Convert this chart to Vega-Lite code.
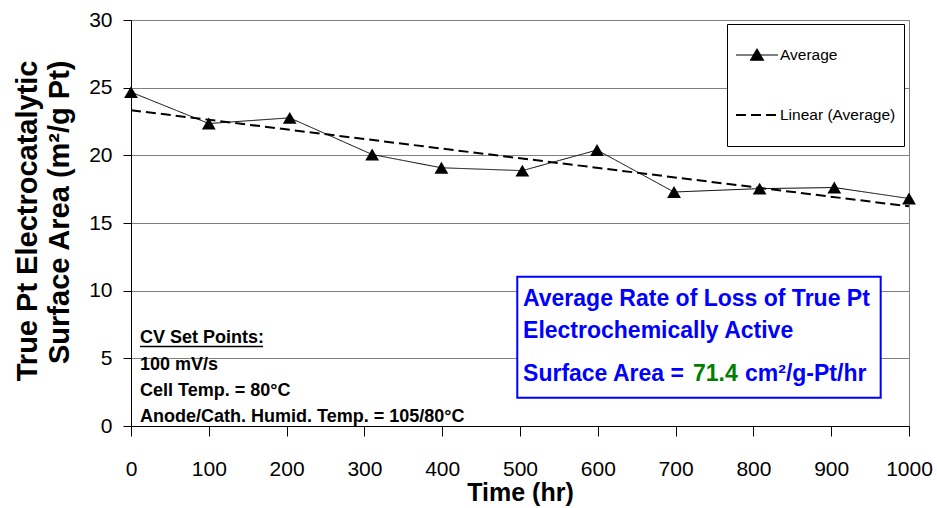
{
  "$schema": "https://vega.github.io/schema/vega-lite/v6.json",
  "width": 778,
  "height": 406,
  "autosize": "none",
  "padding": {"left": 131, "top": 20, "right": 28, "bottom": 82},
  "background": "white",
  "config": {
    "font": "Liberation Sans",
    "view": {"stroke": "#808080", "strokeWidth": 1},
    "axis": {
      "labelFont": "Liberation Sans",
      "titleFont": "Liberation Sans",
      "labelColor": "black",
      "titleColor": "black",
      "domainColor": "black",
      "tickColor": "black",
      "labelFontSize": 21,
      "titleFontWeight": "bold",
      "labelFlush": false,
      "labelOverlap": false
    }
  },
  "data": {
    "values": [
      {"time": 0, "area": 24.67},
      {"time": 100, "area": 22.35},
      {"time": 204, "area": 22.77},
      {"time": 310, "area": 20.06},
      {"time": 399, "area": 19.08},
      {"time": 503, "area": 18.87},
      {"time": 599, "area": 20.39},
      {"time": 698, "area": 17.29},
      {"time": 808, "area": 17.54},
      {"time": 904, "area": 17.62},
      {"time": 1000, "area": 16.81}
    ]
  },
  "layer": [
    {
      "mark": {"type": "line", "color": "black", "strokeWidth": 1},
      "encoding": {
        "x": {
          "field": "time",
          "type": "quantitative",
          "title": "Time (hr)",
          "scale": {"domain": [0, 1000], "nice": false, "zero": false},
          "axis": {
            "values": [0, 100, 200, 300, 400, 500, 600, 700, 800, 900, 1000],
            "format": "d",
            "grid": false,
            "tickSize": 10,
            "labelBaseline": "alphabetic",
            "labelPadding": 39,
            "titleFontSize": 25,
            "titleX": 389,
            "titleY": 74,
            "titleBaseline": "alphabetic",
            "titleAlign": "center"
          }
        },
        "y": {
          "field": "area",
          "type": "quantitative",
          "title": ["True Pt Electrocatalytic", "Surface Area (m²/g Pt)"],
          "scale": {"domain": [0, 30], "nice": false},
          "axis": {
            "values": [0, 5, 10, 15, 20, 25, 30],
            "grid": true,
            "gridColor": "#808080",
            "gridWidth": 1,
            "tickSize": 8,
            "labelPadding": 11,
            "titleFontSize": 29,
            "titleAngle": -90,
            "titleX": -95,
            "titleY": 40,
            "titleAlign": "right",
            "titleBaseline": "alphabetic",
            "titleLineHeight": 32
          }
        },
        "strokeDash": {
          "datum": "Average",
          "scale": {"domain": ["Average", "Linear (Average)"], "range": [[1, 0], [10, 5]]},
          "legend": {
            "orient": "none",
            "legendX": 596,
            "legendY": 4,
            "title": null,
            "fillColor": "white",
            "strokeColor": "black",
            "padding": 8,
            "labelFont": "Liberation Sans",
            "labelFontSize": 15.5,
            "labelColor": "black",
            "labelOffset": 1,
            "symbolSize": 1764,
            "clipHeight": 46,
            "rowPadding": 14,
            "symbolStrokeColor": "black",
            "encode": {
              "symbols": {
                "update": {
                  "shape": {"signal": "(datum.value === 'Average' ? 'M-1,0H1M0,-0.3L0.32,0.25L-0.32,0.25Z' : 'M-1,0H1')"},
                  "fill": {"value": "black"},
                  "stroke": {"value": "black"},
                  "strokeWidth": {"signal": "(datum.value === 'Average' ? 1 : 2)"}
                }
              }
            }
          }
        }
      }
    },
    {
      "mark": {"type": "point", "shape": "triangle-up", "filled": true, "color": "black", "size": 190, "opacity": 1},
      "encoding": {
        "x": {"field": "time", "type": "quantitative"},
        "y": {"field": "area", "type": "quantitative"}
      }
    },
    {
      "transform": [{"regression": "area", "on": "time", "extent": [0, 1000]}],
      "mark": {"type": "line", "color": "black", "strokeWidth": 2},
      "encoding": {
        "x": {"field": "time", "type": "quantitative"},
        "y": {"field": "area", "type": "quantitative"},
        "strokeDash": {"datum": "Linear (Average)"}
      }
    },
    {
      "data": {"values": [{}]},
      "mark": {"type": "rect", "fill": "white", "stroke": "#0000FF", "strokeWidth": 2},
      "encoding": {
        "x": {"datum": 496.5},
        "x2": {"datum": 963.6},
        "y": {"datum": 11.03},
        "y2": {"datum": 2.09}
      }
    },
    {
      "data": {"values": [{}]},
      "mark": {"type": "text", "text": ["Average Rate of Loss of True Pt", "Electrochemically Active"], "align": "left", "baseline": "alphabetic", "fontSize": 23, "fontWeight": "bold", "color": "#0000FF", "lineHeight": 32, "font": "Liberation Sans"},
      "encoding": {"x": {"datum": 503.9}, "y": {"datum": 8.9}}
    },
    {
      "data": {"values": [{}]},
      "mark": {"type": "text", "text": "Surface Area =", "align": "left", "baseline": "alphabetic", "fontSize": 23, "fontWeight": "bold", "color": "#0000FF", "font": "Liberation Sans"},
      "encoding": {"x": {"datum": 503.9}, "y": {"datum": 3.33}}
    },
    {
      "data": {"values": [{}]},
      "mark": {"type": "text", "text": "71.4", "align": "left", "baseline": "alphabetic", "fontSize": 23, "fontWeight": "bold", "color": "#008000", "font": "Liberation Sans"},
      "encoding": {"x": {"datum": 722.4}, "y": {"datum": 3.33}}
    },
    {
      "data": {"values": [{}]},
      "mark": {"type": "text", "text": "cm²/g-Pt/hr", "align": "left", "baseline": "alphabetic", "fontSize": 23, "fontWeight": "bold", "color": "#0000FF", "font": "Liberation Sans"},
      "encoding": {"x": {"datum": 789.2}, "y": {"datum": 3.33}}
    },
    {
      "data": {"values": [{}]},
      "mark": {"type": "text", "text": "CV Set Points:", "align": "left", "baseline": "alphabetic", "fontSize": 18, "fontWeight": "bold", "color": "black", "font": "Liberation Sans"},
      "encoding": {"x": {"datum": 11.6}, "y": {"datum": 6.13}}
    },
    {
      "data": {"values": [{}]},
      "mark": {"type": "rule", "color": "black", "strokeWidth": 1.5},
      "encoding": {"x": {"datum": 11.6}, "x2": {"datum": 169.7}, "y": {"datum": 5.87}}
    },
    {
      "data": {"values": [{}]},
      "mark": {"type": "text", "text": ["100 mV/s", "Cell Temp. = 80°C", "Anode/Cath. Humid. Temp. = 105/80°C"], "align": "left", "baseline": "alphabetic", "fontSize": 18, "fontWeight": "bold", "color": "black", "lineHeight": 26, "font": "Liberation Sans"},
      "encoding": {"x": {"datum": 11.6}, "y": {"datum": 4.14}}
    }
  ]
}
